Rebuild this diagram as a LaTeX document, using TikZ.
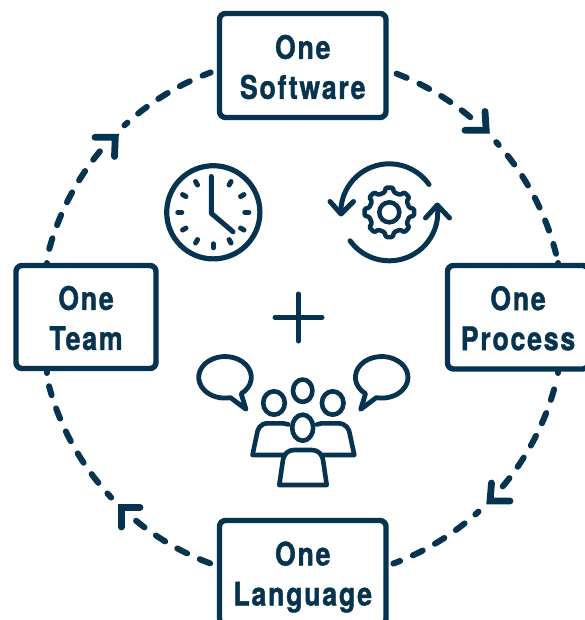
\documentclass[tikz,border=0pt]{standalone}
\usepackage{fontspec}
\newfontfamily\boxfont[FakeStretch=0.82,LetterSpace=5.5,FakeBold=1.2]{TeX Gyre Heros Bold}
\definecolor{navy}{HTML}{06334F}
\tikzset{
  stage/.style={draw=navy,line width=5.4pt,rounded corners=6pt,fill=white,inner sep=0pt},
  caption/.style={inner sep=0pt,text=navy,align=center,font=\boxfont\fontsize{32.5}{40}\selectfont},
  flow/.style={draw=navy,line width=6pt,line cap=round},
  chevron/.style={draw=navy,line width=6.8pt,line cap=round,line join=miter},
  icon/.style={draw=navy,line width=5pt,line cap=round,line join=round},
}
\newcommand{\flowarc}[3]{% start, end, phase
  \draw[flow,dash pattern=on 11pt off 14pt,dash phase=#3pt]
    ($(hub)+(#1:262)$) arc[start angle=#1,end angle=#2,radius=262];}
\usetikzlibrary{calc}
\begin{document}
\begin{tikzpicture}[x=1pt,y=-1pt]
\clip (0,0) rectangle (585,620);
\fill[white] (0,0) rectangle (585,620);
\coordinate (hub) at (302,318);
% arcs
\begin{scope}[y=1pt]
\flowarc{68.85}{50}{0}
\flowarc{42.15}{14.2}{7.3}
\flowarc{-15.8}{-40}{0}
\flowarc{-47.65}{-69.6}{6.8}
\flowarc{249.45}{230.7}{0}
\flowarc{223.25}{195.1}{5.5}
\flowarc{164.7}{140.5}{0}
\flowarc{132.65}{110.4}{7}
\end{scope}
% stubs
\coordinate (st1) at (558.3,263);
\coordinate (st2) at (558,373);
\coordinate (st3) at (46.7,373);
\coordinate (st4) at (46.7,263);
\draw[flow] (st1) -- ++(0,4);
\draw[flow] (st2) -- ++(0,-4);
\draw[flow] (st3) -- ++(0,-4);
\draw[flow] (st4) -- ++(0,4);
% chevrons
\draw[chevron] (485,111.5) -- (486.2,130.3) -- (465,130.3);
\draw[chevron] (491.5,483) -- (490,501) -- (510,501);
\draw[chevron] (140,507.3) -- (121.3,507.3) -- (121.3,527);
\draw[chevron] (95,137.3) -- (115.3,137.3) -- (114.5,156.5);
% boxes
\node[stage,minimum width=166.5pt,minimum height=104pt] (soft) at (302.75,65.5) {};
\node[caption] (softtext) at ([yshift=-1.5pt]soft.center) {One\\Software};
\node[stage,minimum width=140pt,minimum height=103pt] (team) at (86,317) {};
\node[caption] (teamtext) at ([yshift=-1pt]team.center) {One\\Team};
\node[stage,minimum width=141pt,minimum height=103.5pt] (proc) at (518,317.25) {};
\node[caption] (proctext) at ([yshift=-1pt]proc.center) {One\\Process};
\node[stage,minimum width=166.5pt,minimum height=104pt] (lang) at (302.75,572.5) {};
\node[caption] (langtext) at ([yshift=-4.5pt]lang.center) {One\\Language};
% clock
\coordinate (ck) at (213.3,212.3);
\draw[icon,line width=5.2pt] (ck) circle[radius=46.6];
\begin{scope}[y=1pt]
\foreach \a in {0,30,60,120,150,180,210,240,270,300,330}
  \draw[icon] ($(ck)+(\a:31.5)$) -- ($(ck)+(\a:35.5)$);
\end{scope}
\draw[icon] (211.3,176.5) -- (211.3,213.3) -- (233,231.8);
% cycle arrows
\coordinate (gr) at (389.3,212.3);
\begin{scope}[y=1pt]
\draw[icon] ($(gr)+(178:48.5)$) arc[start angle=178,end angle=35,radius=48.5];
\draw[icon] ($(gr)+(8:48.5)$) arc[start angle=8,end angle=-144,radius=48.5];
\draw[icon,line width=4.5pt,rounded corners=1.2pt,shift={(gr)}]
  (-8:25) \foreach \a in {0,45,...,315} {
    -- (\a-8:25) -- (\a+8:25) -- (\a+13:20.5) -- (\a+32:20.5)
  } -- cycle;
\draw[icon,line width=4.5pt] (gr) circle[radius=10];
\end{scope}
\draw[icon] (330,201.5) -- (341,214) -- (353.5,201.5);
\draw[icon] (425.5,218) -- (437.3,205) -- (449.5,218);
% plus
\draw[icon] (275,317.3) -- (322,317.3);
\draw[icon] (298.3,294) -- (298.3,341);
% people
\draw[icon,line width=4.6pt] (302.7,390.7) ellipse[x radius=9.7,y radius=11.2];
\draw[icon,line width=4.6pt] (274,403) ellipse[x radius=10.8,y radius=11.7];
\draw[icon,line width=4.6pt] (332.7,403) ellipse[x radius=10.8,y radius=11.7];
\draw[icon,line width=4.6pt] (302.7,427.7) ellipse[x radius=10.5,y radius=13];
\draw[icon,line width=4.6pt] (288.3,424.5) .. controls (285,423.3) and (283,423.3) .. (280,423.3) -- (268,423.3)
  .. controls (260,423.3) and (257.5,429) .. (256.7,435) -- (252.5,455) -- (284,455);
\draw[icon,line width=4.6pt] (317,424.5) .. controls (320,423.3) and (322,423.3) .. (325,423.3) -- (338,423.3)
  .. controls (346,423.3) and (349.5,429) .. (350,435) -- (354.3,455) -- (322,455);
\draw[icon,line width=4.6pt] (279.3,485) -- (282.7,461.7) .. controls (283.5,454) and (288,450) .. (294,450)
  -- (311.7,450) .. controls (318,450) and (322.5,454) .. (323.3,461.7) -- (326.7,485) -- cycle;
% speech bubbles
\begin{scope}[y=1pt]
\coordinate (bl) at (225,-377.3);
\coordinate (br) at (381.7,-377.3);
\draw[icon,line width=4.8pt] ($(bl)+(16.2,-16.4)$)
  arc[start angle=-52,end angle=282,x radius=26.3,y radius=20.8] -- (246,-409.3) -- cycle;
\draw[icon,line width=4.8pt] ($(br)+(-16.2,-16.4)$)
  arc[start angle=232,end angle=-102,x radius=26.3,y radius=20.8] -- (360.7,-409.3) -- cycle;
\end{scope}
\end{tikzpicture}
\end{document}
